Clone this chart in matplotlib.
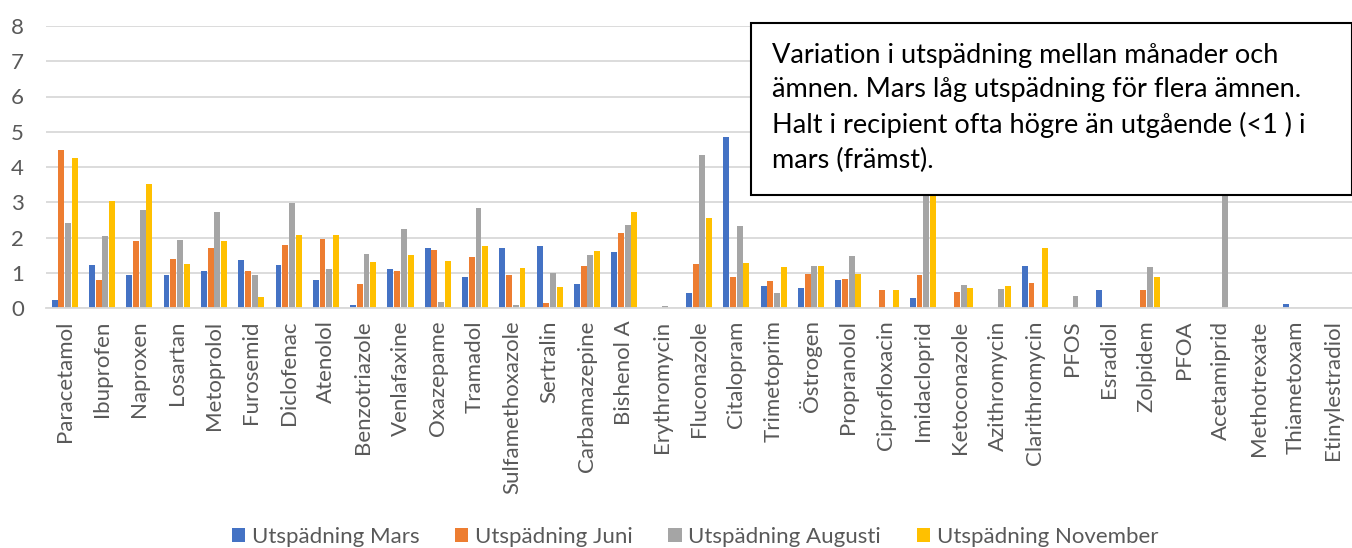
import numpy as np
import matplotlib
matplotlib.use("Agg")
import matplotlib.pyplot as plt
from matplotlib.patches import Rectangle

plt.rcParams['font.family'] = ['Lato', 'DejaVu Sans']

amnen = ["Paracetamol", "Ibuprofen", "Naproxen", "Losartan", "Metoprolol", "Furosemid",
         "Diclofenac", "Atenolol", "Benzotriazole", "Venlafaxine", "Oxazepame", "Tramadol",
         "Sulfamethoxazole", "Sertralin", "Carbamazepine", "Bishenol A", "Erythromycin",
         "Fluconazole", "Citalopram", "Trimetoprim", "Östrogen", "Propranolol",
         "Ciprofloxacin", "Imidacloprid", "Ketoconazole", "Azithromycin", "Clarithromycin",
         "PFOS", "Esradiol", "Zolpidem", "PFOA", "Acetamiprid", "Methotrexate",
         "Thiametoxam", "Etinylestradiol"]

mars = [0.22, 1.21, 0.95, 0.95, 1.04, 1.35, 1.21, 0.79, 0.08, 1.11, 1.70, 0.87,
        1.70, 1.77, 0.69, 1.58, 0, 0.42, 4.85, 0.61, 0.57, 0.80, 0, 0.27, 0, 0,
        1.18, 0, 0.52, 0, 0, 0, 0, 0.10, 0]
juni = [4.48, 0.79, 1.90, 1.38, 1.70, 1.05, 1.79, 1.96, 0.67, 1.05, 1.65, 1.44,
        0.93, 0.13, 1.18, 2.12, 0, 1.24, 0.87, 0.76, 0.97, 0.83, 0.52, 0.93, 0.44, 0,
        0.70, 0, 0, 0.50, 0, 0, 0, 0, 0]
augusti = [2.40, 2.03, 2.77, 1.94, 2.72, 0.94, 2.99, 1.10, 1.52, 2.24, 0.18, 2.83,
           0.09, 1.00, 1.49, 2.36, 0.06, 4.35, 2.34, 0.43, 1.20, 1.47, 0, 6.2, 0.66, 0.53,
           0, 0.33, 0, 1.17, 0, 7.5, 0, 0, 0]
november = [4.26, 3.03, 3.53, 1.26, 1.90, 0.30, 2.06, 2.06, 1.31, 1.49, 1.32, 1.76,
            1.14, 0.59, 1.62, 2.72, 0, 2.55, 1.28, 1.15, 1.18, 0.96, 0.51, 5.4, 0.58, 0.62,
            1.70, 0, 0, 0.89, 0, 0, 0, 0, 0]

serier = [("Utspädning Mars", mars, "#4472C4"),
          ("Utspädning Juni", juni, "#ED7D31"),
          ("Utspädning Augusti", augusti, "#A5A5A5"),
          ("Utspädning November", november, "#FFC000")]

W, H = 1352, 548
fig = plt.figure(figsize=(W / 100, H / 100), dpi=100)
ax = fig.add_axes([46 / W, 1 - 308 / H, (1352 - 46) / W, (308 - 26) / H])

x = np.arange(len(amnen))
bw = 0.18
for i, (namn, vals, farg) in enumerate(serier):
    ax.bar(x + (i - 1.5) * bw, vals, bw * 0.88, color=farg, label=namn, zorder=2)

ax.set_xlim(-0.5, len(amnen) - 0.5)
ax.set_ylim(0, 8)
ax.set_yticks(range(9))
ax.yaxis.grid(True, color="#D9D9D9", linewidth=1.3, zorder=0)
ax.set_axisbelow(True)
for s in ["top", "right", "left"]:
    ax.spines[s].set_visible(False)
ax.spines["bottom"].set_color("#D9D9D9")
ax.spines["bottom"].set_linewidth(1.3)
ax.tick_params(axis="both", length=0, colors="#595959", labelsize=16)
ax.tick_params(axis="y", pad=16)
ax.tick_params(axis="x", pad=9)
ax.set_xticks(x)
ax.set_xticklabels(amnen, rotation=90, fontsize=16, color="#595959")

fig.legend(loc="center", bbox_to_anchor=(695 / W, 1 - 537 / H), ncol=4,
           frameon=False, fontsize=16, handlelength=0.6, handleheight=0.6,
           handletextpad=0.3, columnspacing=1.6, labelcolor="#595959",
           borderaxespad=0)

# textruta
fig.patches.append(Rectangle((751 / W, 1 - 195 / H), (W - 751) / W, (195 - 23) / H,
                             transform=fig.transFigure, facecolor="white",
                             edgecolor="black", linewidth=1.5, zorder=5))
rader = ["Variation i utspädning mellan månader och",
         "ämnen. Mars låg utspädning för flera ämnen.",
         "Halt i recipient ofta högre än utgående (<1 ) i",
         "mars (främst)."]
for k, rad in enumerate(rader):
    fig.text(772 / W, 1 - (55 + 35 * k) / H, rad, fontsize=19.5, color="black",
             va="center", ha="left", zorder=6)

fig.savefig("out.png", dpi=100)
